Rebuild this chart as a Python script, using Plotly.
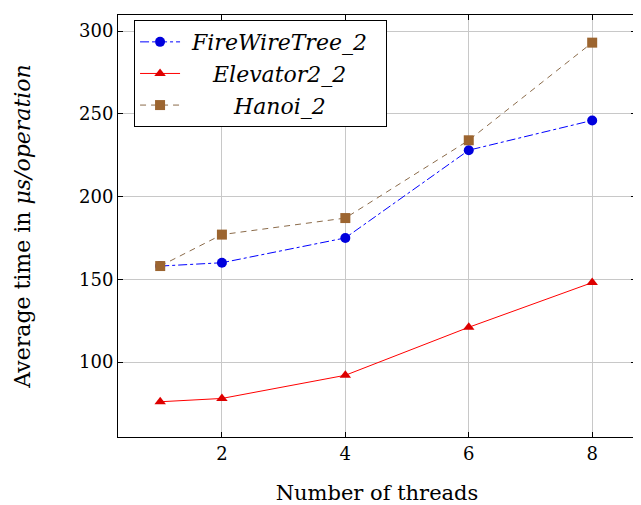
import plotly.graph_objects as go

threads = [1, 2, 4, 6, 8]
firewire = [158, 160, 175, 228, 246]
elevator = [76, 78, 92, 121, 148]
hanoi = [158, 177, 187, 234, 293]

x_ticks = [2, 4, 6, 8]
y_ticks = [100, 150, 200, 250, 300]

FONT = "DejaVu Serif, Liberation Serif, serif"
NB = "\u00a0"

fig = go.Figure()
fig.add_trace(go.Scatter(
    x=threads, y=firewire, mode="lines+markers",
    name=NB + "<i>FireWireTree_2</i>" + NB * 2,
    line=dict(color="#0000FF", width=1, dash="dashdot"),
    marker=dict(symbol="circle", size=10, color="#0000DD"),
))
fig.add_trace(go.Scatter(
    x=threads, y=elevator, mode="lines+markers",
    name=NB * 4 + "<i>Elevator2_2</i>",
    line=dict(color="#FF0000", width=1),
    marker=dict(symbol="triangle-up", size=10, color="#DD0000"),
))
fig.add_trace(go.Scatter(
    x=threads, y=hanoi, mode="lines+markers",
    name=NB * 7 + "<i>Hanoi_2</i>",
    line=dict(color="#8B6B4A", width=1, dash="6px,5px"),
    marker=dict(symbol="square", size=10, color="#9C6530"),
))

axis_common = dict(
    showline=True, linecolor="black", linewidth=1, mirror="ticks",
    ticks="inside", ticklen=5, tickcolor="black",
    showgrid=True, gridcolor="#C8C8C8", gridwidth=1,
    zeroline=False, automargin=False,
    tickfont=dict(family=FONT, size=18, color="black"),
)

fig.update_layout(
    width=641, height=505,
    margin=dict(l=110, r=13, t=7, b=76),
    plot_bgcolor="white", paper_bgcolor="white",
    font=dict(family=FONT, size=18, color="black"),
    xaxis=dict(range=[0.316, 8.71], tickvals=x_ticks,
               title=dict(text="Number of threads", font=dict(family=FONT, size=21), standoff=22),
               **axis_common),
    yaxis=dict(range=[54.7, 309.7], tickvals=y_ticks,
               title=dict(text="Average time in <i>μs/operation</i>", font=dict(family=FONT, size=22), standoff=42),
               **axis_common),
    legend=dict(x=0.031, y=0.988, xanchor="left", yanchor="top",
                bordercolor="black", borderwidth=1, bgcolor="white",
                font=dict(family=FONT, size=22), itemwidth=40,
                tracegroupgap=0),
    showlegend=True,
)

fig.write_html("out.html")
